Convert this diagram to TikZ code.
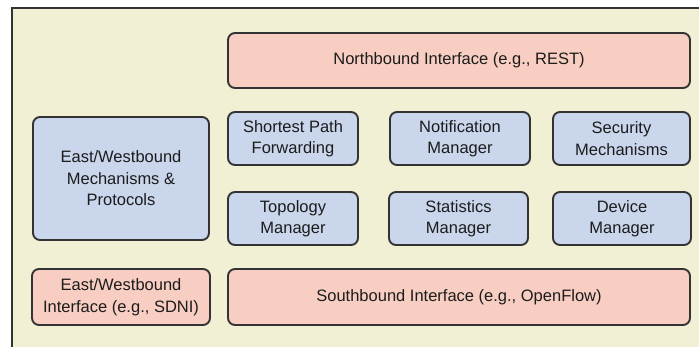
\documentclass[tikz,border=0pt]{standalone}
\usepackage{fontspec}
\setmainfont{Liberation Sans}
\definecolor{panel}{HTML}{F1EFD4}
\definecolor{iface}{HTML}{F8CEC2}
\definecolor{module}{HTML}{C9D6EC}
\definecolor{edge}{HTML}{333333}
\definecolor{ink}{HTML}{1C1C1C}
\tikzset{
  box/.style={draw=edge, line width=1.9pt, rounded corners=7pt, inner sep=0pt,
    align=center, text=ink, font=\fontsize{16.5}{21.5}\selectfont},
  ifbox/.style={box, fill=iface},
  modbox/.style={box, fill=module, minimum height=53pt},
}
\begin{document}
\begin{tikzpicture}[x=1pt, y=-1pt]
  \useasboundingbox (0,0) rectangle (699,347);
  % controller panel
  \fill[panel] (12,8) rectangle (699,347);
  \draw[edge, line width=2pt] (12,347) -- (12,8) -- (699,8);

  % interfaces
  \node[ifbox, minimum width=462pt, minimum height=55pt] (north) at (459,60.5)
    {Northbound Interface (e.g., REST)};
  \node[ifbox, minimum width=462pt, minimum height=56pt] (south) at (459,297)
    {Southbound Interface (e.g., OpenFlow)};
  \node[ifbox, minimum width=178pt, minimum height=56pt] (ewif) at (121,297)
    {East/Westbound\\Interface (e.g., SDNI)};

  % east/west mechanisms
  \node[box, fill=module, minimum width=176pt, minimum height=123pt] (ewmech) at (121,178.5)
    {East/Westbound\\Mechanisms \&\\Protocols};

  % core modules
  \node[modbox, minimum width=130pt] (spf)   at (293,138.5) {Shortest Path\\Forwarding};
  \node[modbox, minimum width=140pt] (notif) at (460,138.5) {Notification\\Manager};
  \node[modbox, minimum width=137pt] (sec)   at (621.5,138.5) {Security\\Mechanisms};
  \node[modbox, minimum width=130pt] (topo)  at (293,218.5) {Topology\\Manager};
  \node[modbox, minimum width=139pt] (stats) at (458.5,218.5) {Statistics\\Manager};
  \node[modbox, minimum width=138pt] (dev)   at (622,218.5) {Device\\Manager};
\end{tikzpicture}
\end{document}
